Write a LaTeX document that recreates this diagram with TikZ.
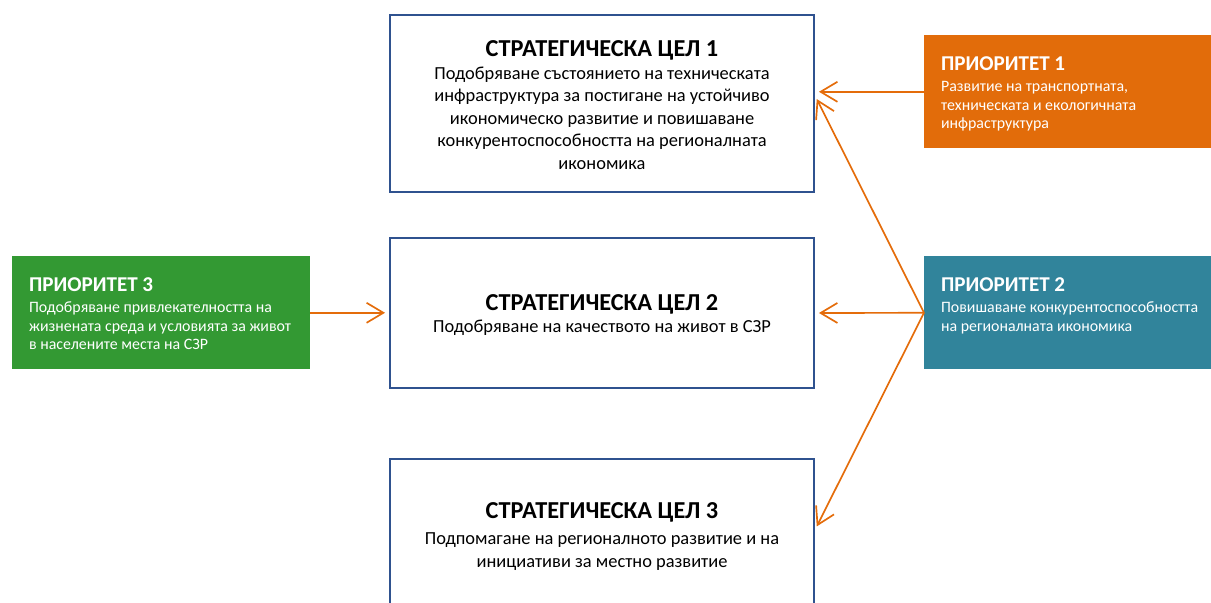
\documentclass[tikz,border=0pt]{standalone}
\usepackage{fontspec}
\setmainfont{Carlito}
\usetikzlibrary{arrows.meta}

\definecolor{goalblue}{RGB}{47,82,143}
\definecolor{arrorange}{RGB}{228,108,10}
\definecolor{priorange}{RGB}{226,108,10}
\definecolor{priteal}{RGB}{49,132,155}
\definecolor{prigreen}{RGB}{51,153,51}

\newcommand\pritext[2]{\parbox[c][2.4cm][t]{6.6cm}{\raggedright
  \vspace*{9.1pt}{\fontsize{15}{17}\selectfont\bfseries #1\par}
  \fontsize{11.3}{13.2}\selectfont\vspace{1.8pt}#2}}
\newcommand\goalhead[1]{{\fontsize{17.3}{16}\selectfont\bfseries #1}}

\begin{document}
\begin{tikzpicture}[x=0.025cm,y=-0.025cm,
   goal/.style={draw=goalblue,line width=1.3pt,minimum width=10.6cm,inner sep=0pt},
   goaltext/.style={anchor=north,align=center,inner sep=0pt,
                font=\fontsize{13.1}{16}\selectfont},
   prio/.style={anchor=north west,text=white,inner xsep=0.42cm,inner ysep=0.2cm,
                minimum height=2.825cm,minimum width=7.44cm},
   arr/.style={draw=arrorange,line width=1.2pt,shorten >=0.1cm,
               -{Straight Barb[length=0.42cm,width=0.5cm]}}]
   \useasboundingbox (0,0) rectangle (1211,603);
   % strategic goals
   \node[goal,minimum height=4.425cm] (g1) at (602,103.5) {};
   \node[goal,minimum height=3.75cm] (g2) at (602,313) {};
   \node[goal,minimum height=3.75cm] (g3) at (602,534) {};
   \node[goaltext] (g1t) at (602,40.4) {\goalhead{СТРАТЕГИЧЕСКА ЦЕЛ 1}\\
      Подобряване състоянието на техническата\\
      инфраструктура за постигане на устойчиво\\
      икономическо развитие и повишаване\\
      конкурентоспособността на регионалната\\
      икономика};
   \node[goaltext] (g2t) at (602,294.4) {\goalhead{СТРАТЕГИЧЕСКА ЦЕЛ 2}\\[-0.6pt]
      Подобряване на качеството на живот в СЗР};
   \node[goaltext] (g3t) at (602,502.4) {\goalhead{СТРАТЕГИЧЕСКА ЦЕЛ 3}\\[2.5pt]
      Подпомагане на регионалното развитие и на\\
      инициативи за местно развитие};
   % priorities
   \node[prio,fill=priorange] (p1) at (924,35) {\pritext{ПРИОРИТЕТ 1}
      {Развитие на транспортната,\\ техническата и екологичната\\ инфраструктура}};
   \node[prio,fill=priteal] (p2) at (924,256) {\pritext{ПРИОРИТЕТ 2}
      {Повишаване конкурентоспособността\\ на регионалната икономика}};
   \node[prio,fill=prigreen] (p3) at (12,256) {\pritext{ПРИОРИТЕТ 3}
      {Подобряване привлекателността на\\ жизнената среда и условията за живот\\ в населените места на СЗР}};
   \draw[arr] (p1.west) -- (p1.west -| g1.east);
   \draw[arr] (p3.east) -- (p3.east -| g2.west);
   \foreach \t/\s in {g1/0.2,g2/0,g3/0.1}
      \draw[arr] (p2.west) -- ([yshift=\s cm]\t.east);
\end{tikzpicture}
\end{document}
